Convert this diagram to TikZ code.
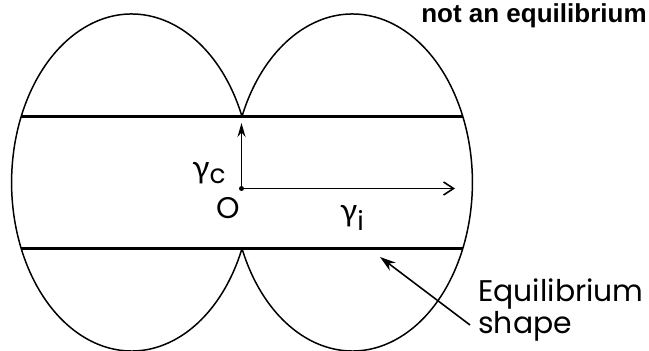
\documentclass[tikz,border=0pt]{standalone}
\usepackage{fontspec}
\setmainfont{Poppins}
\newfontfamily\grkfont{Lato}
\newfontfamily\titlefont{Liberation Sans}
\usetikzlibrary{arrows.meta,positioning}

\begin{document}
\begin{tikzpicture}[
  shell/.style={line width=0.85pt},
  band/.style={line width=1.7pt},
  axis/.style={line width=0.9pt},
  lbl/.style={inner sep=0pt, font=\fontsize{15}{15}\selectfont},
  arr/.style={-{Stealth[length=3.2mm, width=2mm]}, line width=0.9pt},
]
\useasboundingbox (0,0) rectangle (12.98,7.02);
\clip (0,0) rectangle (12.98,7.02);
% the two lobes (inner arcs stop at the band)
\coordinate (cl) at (2.632,3.37);
\coordinate (cr) at (7.048,3.37);
\draw[shell] (cl) ++(23.06:2.4 and 3.37) arc[start angle=23.06, end angle=336.94, x radius=2.4, y radius=3.37];
\draw[shell] (cr) ++(203.06:2.4 and 3.37) arc[start angle=203.06, end angle=516.94, x radius=2.4, y radius=3.37];
% equilibrium band
\coordinate (bandTL) at (0.424,4.69);
\coordinate (bandTR) at (9.256,4.69);
\coordinate (bandBL) at (0.424,2.05);
\coordinate (bandBR) at (9.256,2.05);
\draw[band] (bandTL) -- (bandTR);
\draw[band] (bandBL) -- (bandBR);
% axes
\coordinate (o) at (4.83,3.25);
\coordinate (yc) at (4.83,4.56);
\coordinate (yi) at (9.10,3.25);
\fill (o) circle (0.05);
\draw[axis, -{Stealth[length=2.8mm, width=1.6mm]}] (o) -- (yc);
\draw[axis, -{Straight Barb[length=2mm, width=2.6mm]}] (o) -- (yi);
\node[lbl] (gc) at (4.18,3.56) {{\grkfont\fontsize{18}{18}\selectfont γ}\raisebox{-0.4ex}{c}};
\node[lbl, font=\fontsize{17}{17}\selectfont] (olbl) at (4.56,2.86) {O};
\node[lbl] (gi) at (7.04,2.66) {{\grkfont\fontsize{18}{18}\selectfont γ}\raisebox{-0.6ex}{i}};
% labels at the right
\node[anchor=north west, align=left, inner sep=0pt, font=\fontsize{17}{15}\selectfont] (eq) at (9.56,1.45) {Equilibrium\\shape};
\coordinate (tail) at (9.40,0.52);
\coordinate (head) at (7.60,1.88);
\draw[arr] (tail) -- (head);
\node[anchor=base east, inner sep=0pt, font=\titlefont\bfseries\fontsize{14.8}{15}\selectfont] (title) at (12.94,6.56) {not an equilibrium};
\end{tikzpicture}
\end{document}
